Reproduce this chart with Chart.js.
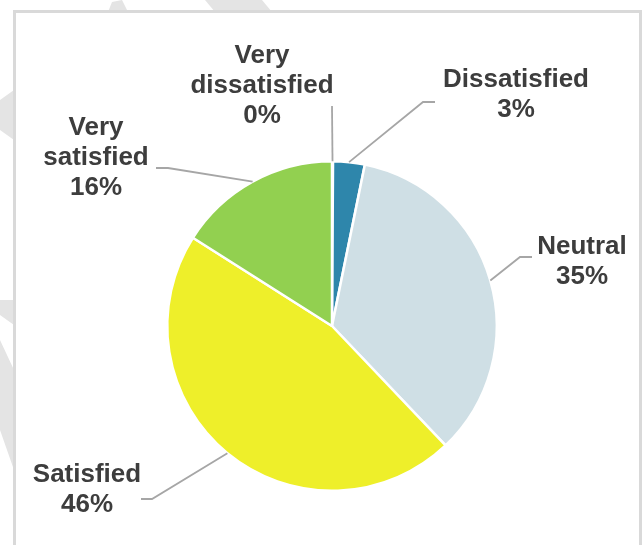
<!DOCTYPE html>
<html>
<head>
<meta charset="utf-8">
<script src="https://cdn.jsdelivr.net/npm/chart.js@4/dist/chart.umd.min.js"></script>
<style>
  html, body { margin: 0; padding: 0; background: #ffffff; }
  #wrap { position: relative; width: 642px; height: 545px; overflow: hidden; background: #ffffff; }
  .wm { position: absolute; background: #e4e4e4; }
  #frame { position: absolute; left: 13px; top: 10px; width: 623px; height: 540px;
           border-left: 3px solid #d9d9d9; border-top: 3px solid #d9d9d9; border-right: 3px solid #d9d9d9;
           background: #ffffff; }
  canvas { position: absolute; left: 0; top: 0; }
</style>
</head>
<body>
<div id="wrap">
  <div class="wm" style="left:0;top:0;width:642px;height:12px;clip-path:polygon(205px 0,262px 0,272px 12px,215px 12px);"></div>
  <div class="wm" style="left:0;top:0;width:642px;height:12px;clip-path:polygon(108px 12px,112px 2px,122px 0,128px 12px);"></div>
  <div class="wm" style="left:0;top:90px;width:14px;height:60px;clip-path:polygon(0 10px,14px 0,14px 50px,0 40px);"></div>
  <div class="wm" style="left:0;top:300px;width:14px;height:190px;clip-path:polygon(0 0,14px 0,14px 25px,0 15px,0 40px,14px 70px,14px 170px,0 130px);"></div>
  <div id="frame"></div>
  <canvas id="c" width="642" height="545"></canvas>
</div>
<script>
const categories = ['Very dissatisfied', 'Dissatisfied', 'Neutral', 'Satisfied', 'Very satisfied'];
const labelLines = [['Very', 'dissatisfied'], ['Dissatisfied'], ['Neutral'], ['Satisfied'], ['Very', 'satisfied']];
const values = [0.1, 3.1, 34.7, 46.1, 16.0];
const colors = ['#1f4e79', '#2e86ab', '#cfdfe5', '#eeef2a', '#92d050'];

// label layout relative to pie centre (px)
const labelCenters = [[-70, -240], [184, -231], [250, -64], [-245, 164], [-236, -168]];
const leaderElbows = [[0, -220], [91, -224], [188, -69], [-180, 173], [-164, -158]];
const leaderEnds   = [[0, -220], [103, -224], [200, -69], [-191, 173], [-176, -158]];

const labelPlugin = {
  id: 'calloutLabels',
  afterDatasetsDraw(chart) {
    const ctx = chart.ctx;
    const meta = chart.getDatasetMeta(0);
    ctx.save();
    meta.data.forEach((arc, i) => {
      const p = arc.getProps(['x', 'y', 'startAngle', 'endAngle', 'outerRadius'], true);
      const mid = (p.startAngle + p.endAngle) / 2;
      const ax = p.x + Math.cos(mid) * p.outerRadius;
      const ay = p.y + Math.sin(mid) * p.outerRadius;
      ctx.strokeStyle = '#a6a6a6';
      ctx.lineWidth = 1.8;
      ctx.beginPath();
      ctx.moveTo(ax, ay);
      ctx.lineTo(p.x + leaderElbows[i][0], p.y + leaderElbows[i][1]);
      ctx.lineTo(p.x + leaderEnds[i][0], p.y + leaderEnds[i][1]);
      ctx.stroke();

      const lines = labelLines[i].concat([Math.round(values[i]) + '%']);
      const lh = 30;
      const cx = p.x + labelCenters[i][0];
      const cy = p.y + labelCenters[i][1];
      ctx.fillStyle = '#3d3d3d';
      ctx.font = 'bold 26px "Liberation Sans", Arial, sans-serif';
      ctx.textAlign = 'center';
      ctx.textBaseline = 'middle';
      lines.forEach((t, k) => {
        ctx.fillText(t, cx, cy + (k - (lines.length - 1) / 2) * lh);
      });
    });
    ctx.restore();
  }
};

new Chart(document.getElementById('c'), {
  type: 'pie',
  data: {
    labels: categories,
    datasets: [{
      data: values,
      backgroundColor: colors,
      borderColor: '#ffffff',
      borderWidth: 2.5
    }]
  },
  options: {
    responsive: false,
    animation: false,
    layout: { padding: { left: 166, right: 144, top: 160, bottom: 53 } },
    plugins: { legend: { display: false }, tooltip: { enabled: false } }
  },
  plugins: [labelPlugin]
});
</script>
</body>
</html>
